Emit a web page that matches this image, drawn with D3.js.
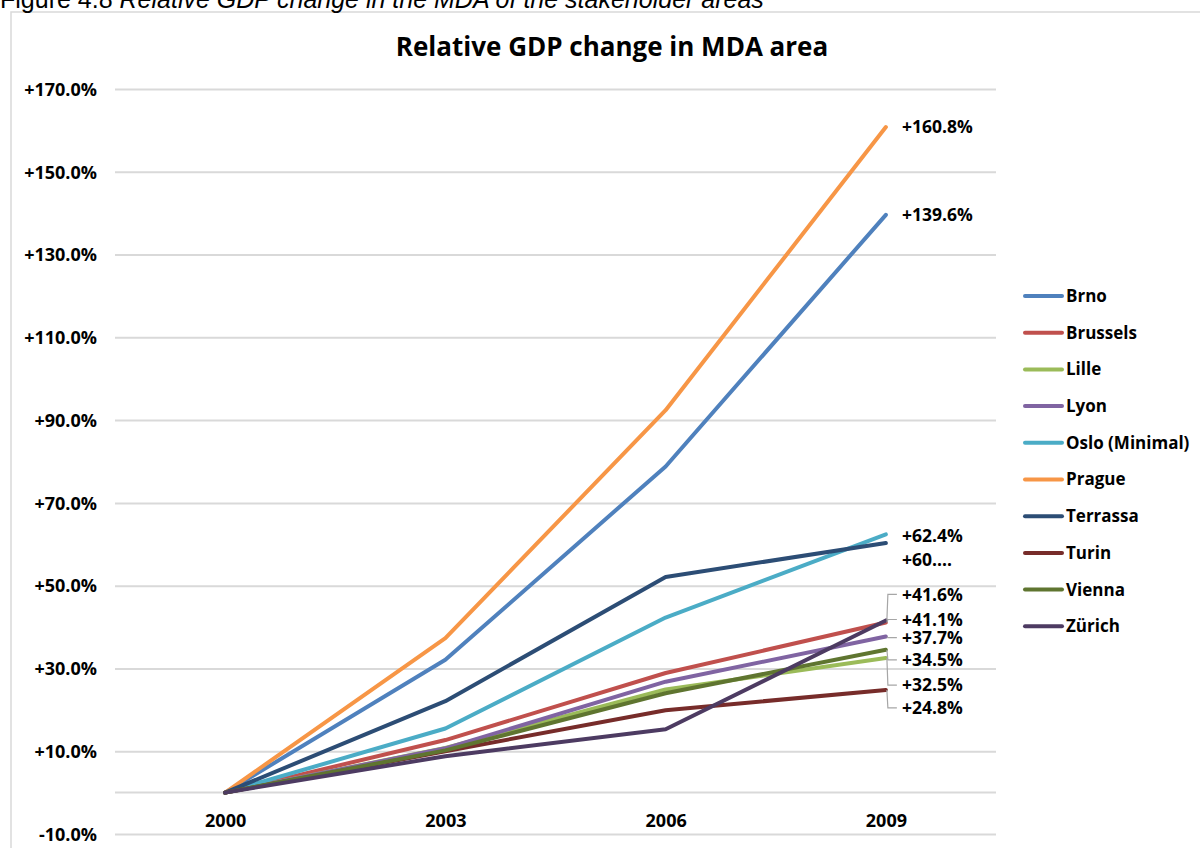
<!DOCTYPE html>
<html><head><meta charset="utf-8">
<script src="https://d3js.org/d3.v7.min.js"></script>
<style>body{margin:0;background:#fff}svg{display:block}</style>
</head><body>
<script>
const years = ["2000","2003","2006","2009"];
const cities = ["Brno","Brussels","Lille","Lyon","Oslo (Minimal)","Prague","Terrassa","Turin","Vienna","Zürich"];
const brno     = [0, 32.1, 78.8, 139.6];
const brussels = [0, 12.7, 28.9, 41.1];
const lille    = [0, 10.8, 24.9, 32.5];
const lyon     = [0, 10.7, 26.8, 37.7];
const oslo     = [0, 15.5, 42.3, 62.4];
const prague   = [0, 37.3, 92.4, 160.8];
const terrassa = [0, 22.1, 52.1, 60.3];
const turin    = [0, 10.0, 19.9, 24.8];
const vienna   = [0, 10.2, 24.0, 34.5];
const zurich   = [0, 8.8, 15.3, 41.6];
const seriesValues = [brno, brussels, lille, lyon, oslo, prague, terrassa, turin, vienna, zurich];
const endLabels = ["+139.6%","+41.1%","+32.5%","+37.7%","+62.4%","+160.8%","+60.…","+24.8%","+34.5%","+41.6%"];
const yTicks = [-10, 10, 30, 50, 70, 90, 110, 130, 150, 170];
const yTickLabels = ["-10.0%","+10.0%","+30.0%","+50.0%","+70.0%","+90.0%","+110.0%","+130.0%","+150.0%","+170.0%"];

// layout / style (not data)
const colors = ["#4F81BD","#C0504D","#9BBB59","#8064A2","#4BACC6","#F79646","#2C4D75","#772C2A","#5F7530","#4D3B62"];
const labelShift = [0, -3, 27, 1, 2, 0, 17, 18, 10, -26];
const hasLeader = [false, true, true, true, false, false, false, true, true, true];

const W = 1200, H = 848;
const svg = d3.select("body").append("svg").attr("width", W).attr("height", H);
const font = "'Open Sans', Lato, sans-serif";

// chart border
svg.append("rect").attr("x", 11).attr("y", 12).attr("width", 1200).attr("height", 900)
  .attr("fill", "#fff").attr("stroke", "#d9d9d9").attr("stroke-width", 1.5);

// caption (cut off at top)
const cap = svg.append("text").attr("x", 0).attr("y", 8)
  .attr("font-family", "'Liberation Sans', Arial, sans-serif").attr("font-size", 25).attr("fill", "#000");
cap.append("tspan").text("Figure 4.8 ");
cap.append("tspan").attr("font-style", "italic").text("Relative GDP change in the MDA of the stakeholder areas");

svg.append("text").attr("x", 612).attr("y", 56).attr("text-anchor", "middle")
  .attr("font-family", font).attr("font-weight", "bold").attr("font-size", 26)
  .attr("fill", "#000").text("Relative GDP change in MDA area");

const x = d3.scalePoint().domain(years).range([115, 996]).padding(0.5);
const y = d3.scaleLinear().domain([-10, 170]).range([834, 89]);

// gridlines
const yAxis = d3.axisLeft(y).tickValues(yTicks).tickSize(-(996 - 115))
  .tickFormat((d, i) => yTickLabels[i]);
const gy = svg.append("g").attr("transform", "translate(115,0)").call(yAxis);
gy.select(".domain").remove();
gy.selectAll(".tick line").attr("stroke", "#d9d9d9").attr("stroke-width", 2);
gy.selectAll(".tick text").attr("x", -18).attr("dy", "0.35em")
  .attr("font-family", font).attr("font-weight", "bold").attr("font-size", 18).attr("fill", "#000");

// zero axis line
svg.append("line").attr("x1", 115).attr("x2", 996).attr("y1", y(0)).attr("y2", y(0))
  .attr("stroke", "#d9d9d9").attr("stroke-width", 2);

const xAxis = d3.axisBottom(x).tickSize(0);
const gx = svg.append("g").attr("transform", `translate(0,${y(0)})`).call(xAxis);
gx.select(".domain").remove();
gx.selectAll(".tick text").attr("y", 34).attr("dy", 0)
  .attr("font-family", font).attr("font-weight", "bold").attr("font-size", 18).attr("fill", "#000");

const line = d3.line().x((d, i) => x(years[i])).y(d => y(d));
seriesValues.forEach((vals, k) => {
  svg.append("path").datum(vals).attr("d", line).attr("fill", "none")
    .attr("stroke", colors[k]).attr("stroke-width", 4)
    .attr("stroke-linejoin", "round").attr("stroke-linecap", "round");
});

// leaders & end labels
seriesValues.forEach((vals, k) => {
  const px = x(years[3]), py = y(vals[3]);
  const ly = py + labelShift[k];
  if (hasLeader[k]) {
    svg.append("polyline")
      .attr("points", `${px + 1},${py} ${px + 2},${ly} ${px + 11},${ly}`)
      .attr("fill", "none").attr("stroke", "#a6a6a6").attr("stroke-width", 1.2);
  }
  svg.append("text").attr("x", px + 16).attr("y", ly).attr("dy", "0.35em")
    .attr("font-family", font).attr("font-weight", "bold").attr("font-size", 17.5)
    .attr("fill", "#000").text(endLabels[k]);
});

// legend
const lg = svg.append("g");
cities.forEach((c, k) => {
  const ly = 296 + k * 36.7;
  lg.append("line").attr("x1", 1025).attr("x2", 1062).attr("y1", ly).attr("y2", ly)
    .attr("stroke", colors[k]).attr("stroke-width", 4).attr("stroke-linecap", "round");
  lg.append("text").attr("x", 1066).attr("y", ly).attr("dy", "0.35em")
    .attr("font-family", font).attr("font-weight", "bold").attr("font-size", 17)
    .attr("fill", "#000").text(c);
});
</script>
</body></html>
